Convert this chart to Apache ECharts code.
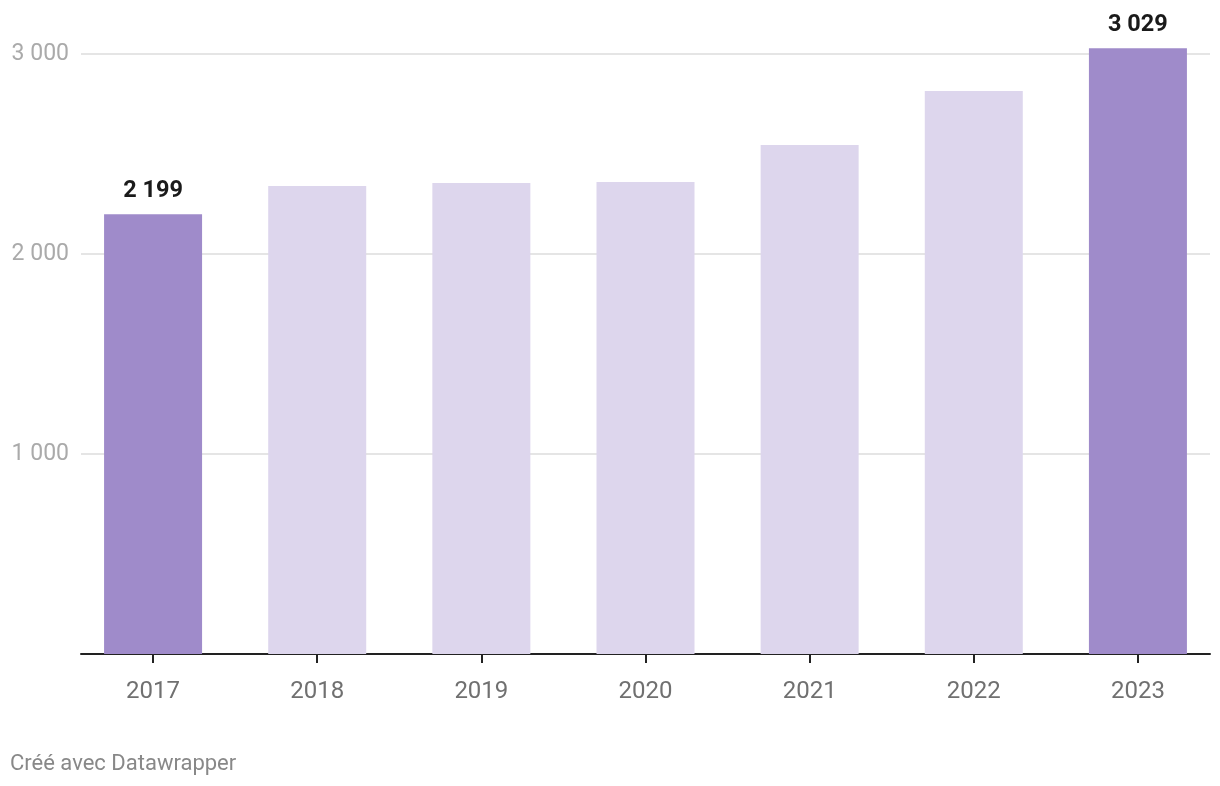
<!DOCTYPE html>
<html><head><meta charset="utf-8">
<script src="https://cdn.jsdelivr.net/npm/echarts@6/dist/echarts.min.js"></script>
<style>html,body{margin:0;padding:0;background:#fff}#c{width:1220px;height:786px}</style>
</head><body><div id="c"></div>
<script>
const years = ['2017','2018','2019','2020','2021','2022','2023'];
const values = [2199, 2340, 2355, 2360, 2545, 2815, 3029];
const highlighted = ['2017','2023'];
const yTicks = [0, 1000, 2000, 3000];
const footer = 'Créé avec Datawrapper';

const fmt = v => String(v).replace(/\B(?=(\d{3})+(?!\d))/g, ' ');
const DARK = '#9f8bca', LIGHT = '#ddd6ed';
const F = 'Roboto, "Noto Sans", sans-serif';

const chart = echarts.init(document.getElementById('c'), null, {renderer:'canvas'});
chart.setOption({
  animation:false,
  textStyle:{fontFamily:F},
  graphic:[{type:'text', left:10, top:753, style:{text:footer, fill:'#888', font:'22px '+F}}],
  grid:[
    {left:71, right:0, top:54, height:600, containLabel:false},
    {left:81, right:10, top:54, height:600, containLabel:false}
  ],
  xAxis:[
    {type:'category', gridIndex:0, data:years, boundaryGap:true,
     axisLine:{show:false},
     axisTick:{show:true, alignWithLabel:true, length:9, lineStyle:{color:'#222', width:2}},
     axisLabel:{color:'#707070', fontSize:24, margin:26, fontFamily:F}},
    {type:'value', gridIndex:1, min:0, max:1, show:true,
     axisLine:{show:true, onZero:false, lineStyle:{color:'#222', width:2}},
     axisTick:{show:false}, axisLabel:{show:false}, splitLine:{show:false}}
  ],
  yAxis:[
    {type:'value', gridIndex:0, min:0, max:3000, interval:1000, show:false},
    {type:'value', gridIndex:1, min:yTicks[0], max:yTicks[yTicks.length-1], interval:1000,
     axisLine:{show:false}, axisTick:{show:false},
     axisLabel:{color:'#aaa', fontSize:23, margin:12, fontFamily:F,
       formatter:v => v===0 ? '' : fmt(v)},
     splitLine:{show:true, lineStyle:{color:'#e5e5e5', width:2}}}
  ],
  series:[{
    type:'bar', xAxisIndex:0, yAxisIndex:0, barWidth:98, clip:false,
    data: years.map((y,i)=>{
      const hi = highlighted.includes(y);
      return {value:values[i], itemStyle:{color: hi?DARK:LIGHT},
        label:{show:hi, position:'top', distance:11, formatter:p=>fmt(p.value),
          color:'#1a1a1a', fontWeight:'bold', fontSize:23.5, fontFamily:F}};
    })
  }]
});
</script></body></html>
